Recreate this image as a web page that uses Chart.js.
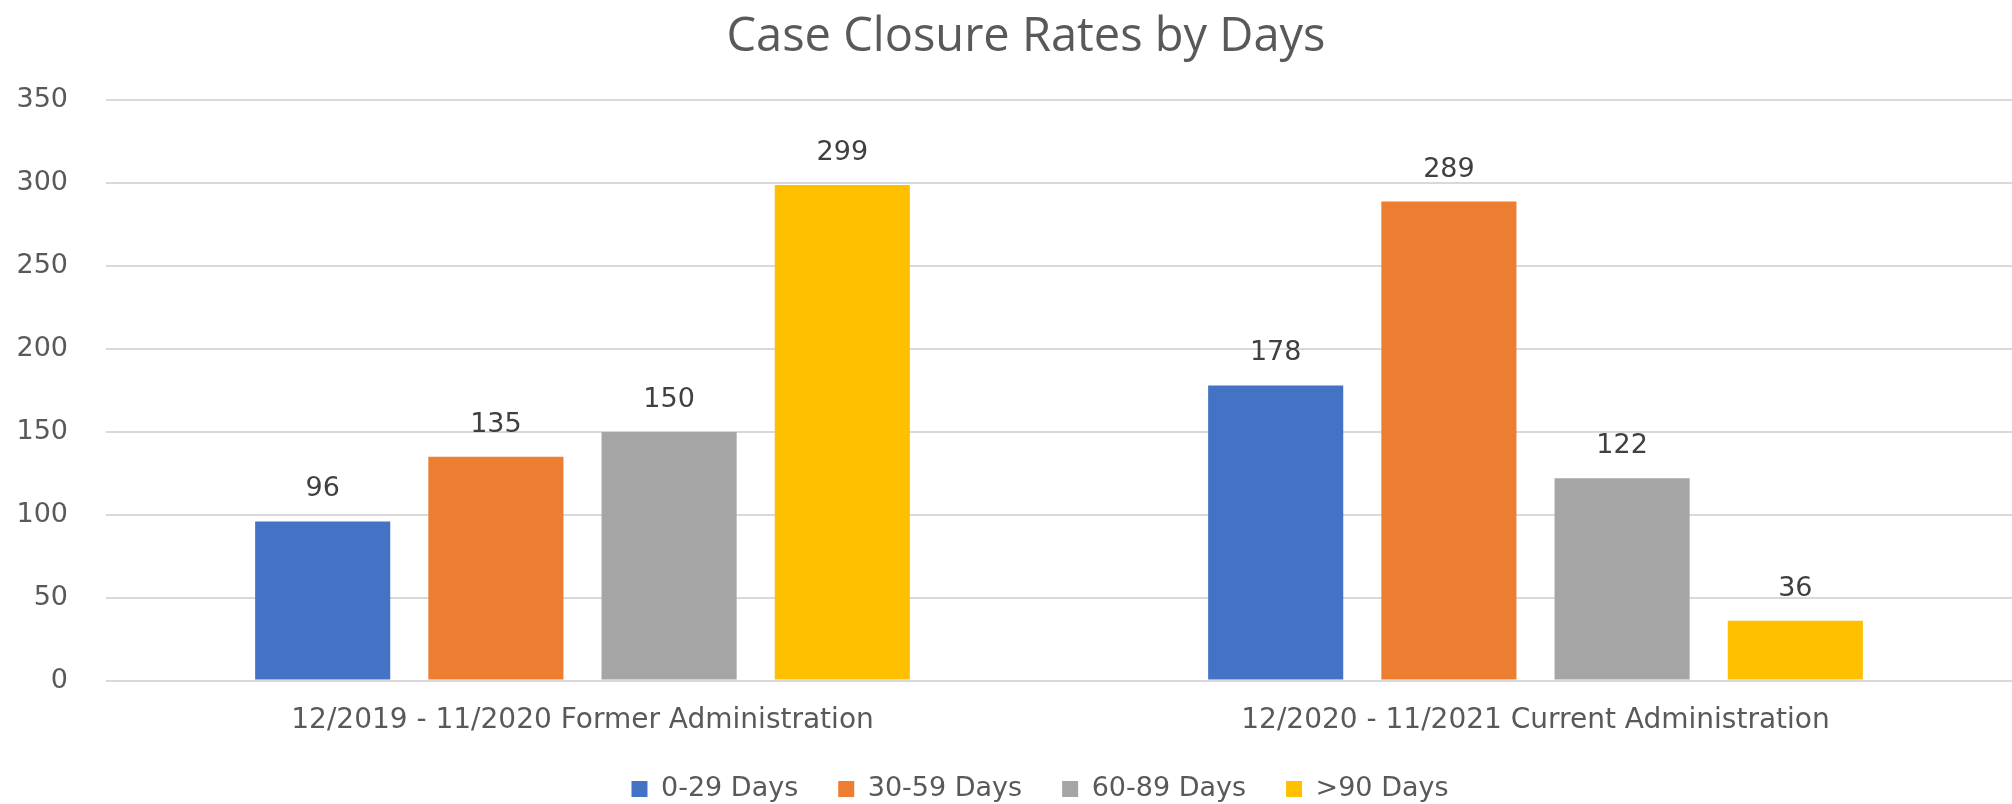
<!DOCTYPE html>
<html>
<head>
<meta charset="utf-8">
<script src="https://cdn.jsdelivr.net/npm/chart.js@4.4.1/dist/chart.umd.min.js"></script>
<style>
  html, body { margin: 0; padding: 0; background: #ffffff; }
</style>
</head>
<body>
<canvas id="closureChart" width="2012" height="804"></canvas>
<script>
// values
var periods = ['12/2019 - 11/2020 Former Administration', '12/2020 - 11/2021 Current Administration'];
var bucketNames = ['0-29 Days', '30-59 Days', '60-89 Days', '>90 Days'];
var days0to29 = [96, 178];
var days30to59 = [135, 289];
var days60to89 = [150, 122];
var daysOver90 = [299, 36];
var yTicks = [0, 50, 100, 150, 200, 250, 300, 350];

var bucketColors = ['#4472C4', '#ED7D31', '#A5A5A5', '#FFC000'];
var bucketValues = [days0to29, days30to59, days60to89, daysOver90];

var textFont = 'DejaVu Sans';

// numbers above each bar
var valueLabels = {
  id: 'valueLabels',
  afterDatasetsDraw: function (chart) {
    var ctx = chart.ctx;
    ctx.save();
    ctx.font = '27px "' + textFont + '"';
    ctx.fillStyle = '#404040';
    ctx.textAlign = 'center';
    ctx.textBaseline = 'middle';
    chart.data.datasets.forEach(function (ds, i) {
      chart.getDatasetMeta(i).data.forEach(function (bar, j) {
        ctx.fillText(String(ds.data[j]), bar.x, bar.y - 32);
      });
    });
    ctx.restore();
  }
};

// title and legend sit a little right of centre in the original
var blockNudge = {
  id: 'blockNudge',
  afterLayout: function (chart) {
    chart.legend.left += 34;
    chart.legend.right += 34;
    chart.titleBlock.left += 20;
    chart.titleBlock.right += 20;
  }
};

var ctx = document.getElementById('closureChart').getContext('2d');
var closureChart = new Chart(ctx, {
  type: 'bar',
  data: {
    labels: periods,
    datasets: bucketNames.map(function (name, i) {
      return {
        label: name,
        data: bucketValues[i],
        backgroundColor: bucketColors[i],
        borderWidth: 0,
        barPercentage: 0.78,
        categoryPercentage: 0.727
      };
    })
  },
  options: {
    responsive: false,
    animation: false,
    devicePixelRatio: 1,
    layout: { padding: 0 },
    plugins: {
      title: {
        display: true,
        text: 'Case Closure Rates by Days',
        color: '#595959',
        font: { family: 'Open Sans', size: 47, weight: 'normal', lineHeight: 1.2 },
        padding: { top: 9, bottom: 35 }
      },
      legend: {
        position: 'bottom',
        maxHeight: 68.5,
        labels: {
          color: '#595959',
          font: { family: textFont, size: 27 },
          boxWidth: 16,
          boxHeight: 16,
          padding: 40
        }
      },
      tooltip: { enabled: false }
    },
    scales: {
      x: {
        grid: { display: false, drawTicks: false },
        border: { display: false },
        ticks: {
          color: '#595959',
          font: { family: textFont, size: 28 },
          padding: 23,
          maxRotation: 0
        },
        afterFit: function (scale) { scale.height = 55; }
      },
      y: {
        min: 0,
        max: 350,
        grid: { color: '#D9D9D9', lineWidth: 2, drawTicks: false },
        border: { display: false },
        ticks: {
          color: '#595959',
          font: { family: textFont, size: 27 },
          padding: 38
        },
        afterBuildTicks: function (axis) {
          axis.ticks = yTicks.map(function (v) { return { value: v }; });
        },
        afterFit: function (scale) { scale.width = 106; }
      }
    }
  },
  plugins: [valueLabels, blockNudge]
});
</script>
</body>
</html>
